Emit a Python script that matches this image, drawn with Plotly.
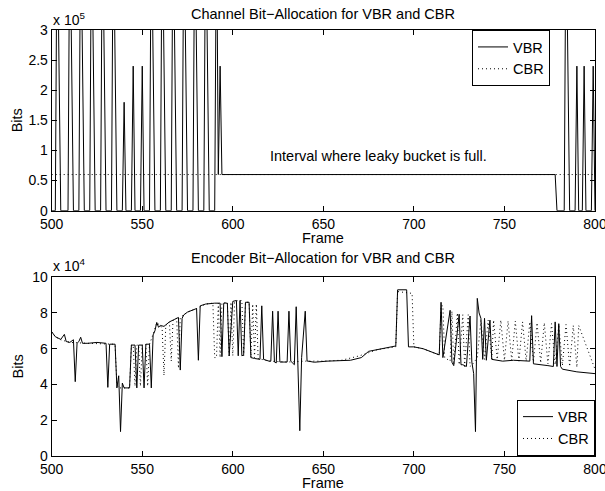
import plotly.graph_objects as go

# ---------------- data ----------------
# Top panel: channel bit-allocation (bits), polyline vertices
top_vbr_frames = [500, 502, 503, 505, 509, 510, 512, 515, 516, 518, 521, 522, 524,
                  527, 528, 530, 533, 534, 536, 539, 540, 541, 544, 545, 546, 549,
                  550, 551, 554, 555, 557, 560, 561, 563, 566, 567, 569, 572, 573,
                  575, 578, 579, 581, 584, 585, 587, 590, 591, 592, 593, 594, 778,
                  779, 783, 784, 786, 789, 790, 791, 793, 794, 795, 798, 799, 800]
top_vbr_bits = [0, 0, 500000, 0, 0, 500000, 0, 0, 500000, 0, 0, 500000, 0,
                0, 500000, 0, 0, 500000, 0, 0, 180000, 0, 0, 240000, 0, 0,
                240000, 0, 0, 500000, 0, 0, 500000, 0, 0, 500000, 0, 0, 500000,
                0, 0, 500000, 0, 0, 500000, 0, 0, 500000, 60000, 240000, 60000, 60000,
                0, 0, 500000, 0, 0, 240000, 0, 0, 240000, 0, 0, 240000, 0]
top_cbr_frames = [500, 800]
top_cbr_bits = [60000, 60000]

# Bottom panel: encoder bit-allocation (bits)
bot_vbr_frames = [500, 502, 505, 507, 508, 510, 512, 513, 514, 515, 516, 517, 520,
                  525, 530, 531, 532, 535, 536, 537, 538, 539, 540, 543, 544, 546,
                  547, 548, 550, 551, 552, 554, 555, 556, 557, 558, 559, 560, 562,
                  565, 568, 570, 571, 572, 573, 575, 580, 581, 582, 585, 590, 593,
                  594, 595, 596, 597, 598, 600, 602, 603, 604, 605, 606, 607, 609,
                  610, 612, 615, 616, 617, 620, 621, 622, 623, 624, 625, 626, 630,
                  631, 632, 634, 635, 637, 638, 640, 641, 645, 652, 665, 671, 675,
                  680, 685, 690, 691, 696, 697, 700, 705, 710, 714, 715, 716, 720,
                  721, 722, 725, 726, 727, 729, 731, 732, 733, 734, 735, 736, 737,
                  738, 739, 740, 742, 743, 749, 755, 760, 764, 765, 766, 774, 777,
                  778, 779, 780, 781, 782, 790, 800]
bot_vbr_bits = [69500, 66700, 65200, 68000, 64000, 63500, 65000, 41500, 63000, 64000,
                66400, 63000, 63000, 63500, 63000, 38300, 62500, 62500, 38000, 44800,
                13500, 40700, 38000, 38000, 62000, 62000, 38000, 62000, 62000, 38000,
                62500, 62500, 38000, 67700, 70000, 74700, 72000, 73000, 72500, 75000,
                76500, 77500, 48000, 77000, 79000, 80500, 82500, 53500, 84000, 85000,
                85500, 85500, 55500, 85500, 85500, 85500, 56000, 86500, 87000, 56000,
                87000, 56000, 56500, 86000, 86000, 55000, 54500, 54000, 84000, 54000,
                53000, 53000, 81000, 52500, 52000, 81000, 52500, 52500, 81000, 53000,
                51000, 83500, 14000, 55000, 81000, 53100, 52400, 53000, 53500, 55000,
                58500, 59500, 60500, 61500, 93000, 93000, 61000, 61000, 60000, 58000,
                56500, 86000, 55000, 81500, 52400, 50500, 79300, 51000, 51000, 50000,
                78300, 52500, 46000, 13500, 88200, 80000, 77000, 54000, 77000, 53500,
                76000, 54000, 53000, 53500, 53000, 53000, 78500, 51500, 50500, 50000,
                75000, 50000, 74000, 50000, 48500, 47000, 46000]
bot_cbr_frames = [500, 502, 505, 510, 520, 534, 535, 536, 537, 543, 544, 545, 546,
                  547, 548, 549, 550, 552, 553, 554, 556, 558, 560, 561, 562, 563,
                  565, 566, 567, 569, 570, 571, 575, 580, 585, 589, 590, 591, 592,
                  593, 594, 597, 598, 599, 600, 601, 603, 605, 606, 607, 609, 610,
                  611, 612, 613, 614, 620, 630, 640, 650, 660, 670, 680, 690, 691,
                  699, 700, 705, 710, 714, 715, 716, 717, 720, 721, 722, 724, 725,
                  727, 728, 730, 731, 733, 735, 737, 739, 741, 743, 744, 746, 748,
                  750, 752, 754, 756, 758, 760, 762, 764, 766, 768, 770, 772, 774,
                  776, 778, 780, 782, 784, 786, 788, 790, 791, 800]
bot_cbr_bits = [69500, 66700, 65000, 63500, 63000, 62500, 62000, 40000, 38000, 38000,
                62000, 62000, 39000, 62000, 62000, 39000, 62000, 62500, 39000, 62500,
                68000, 74500, 73000, 71000, 45000, 73000, 75000, 53000, 76000, 77000,
                49000, 77500, 80500, 82500, 85000, 85500, 55000, 55000, 85500, 55000,
                85500, 86000, 56000, 86000, 56000, 86500, 87000, 87000, 56000, 86000,
                86000, 55000, 85000, 55000, 85000, 54500, 53000, 52500, 53000, 53000,
                53500, 56000, 59500, 61000, 92000, 91000, 61000, 60000, 58000, 56500,
                84000, 84000, 55000, 53000, 81000, 51000, 80000, 51000, 79000, 50000,
                79000, 50000, 52000, 55000, 76000, 54000, 76000, 54000, 76000, 54000,
                76000, 53500, 75500, 53500, 75500, 53000, 75000, 53000, 75000, 52500,
                74500, 52000, 74500, 51500, 74000, 51000, 73500, 50500, 73500, 50000,
                73000, 49500, 73000, 48500, 46000]

x_ticks = [500, 550, 600, 650, 700, 750, 800]
top_y_ticks = [0, 50000, 100000, 150000, 200000, 250000, 300000]
top_y_labels = ["0", "0.5", "1", "1.5", "2", "2.5", "3"]
bot_y_ticks = [0, 20000, 40000, 60000, 80000, 100000]
bot_y_labels = ["0", "2", "4", "6", "8", "10"]

FONT = "Liberation Sans, Arial, Helvetica, sans-serif"
W, H = 605, 491
FS = 14.5

def px_x(p):
    return p / W

def px_y(p):
    return 1 - p / H

# axes pixel boxes
AX_L, AX_R = 51.7, 595.0
TOP_T, TOP_B = 30.0, 210.7
BOT_T, BOT_B = 277.3, 455.7

fig = go.Figure()
line_solid = dict(color="black", width=1)
line_dot = dict(color="black", width=1, dash="1px,3px")

fig.add_trace(go.Scatter(x=top_cbr_frames, y=top_cbr_bits, mode="lines", name="CBR",
                         line=line_dot, xaxis="x", yaxis="y", legend="legend",
                         legendrank=2))
fig.add_trace(go.Scatter(x=top_vbr_frames, y=top_vbr_bits, mode="lines", name="VBR",
                         line=line_solid, xaxis="x", yaxis="y", legend="legend",
                         legendrank=1))
fig.add_trace(go.Scatter(x=bot_cbr_frames, y=bot_cbr_bits, mode="lines", name="CBR",
                         line=line_dot, xaxis="x2", yaxis="y2", legend="legend2",
                         legendrank=2))
fig.add_trace(go.Scatter(x=bot_vbr_frames, y=bot_vbr_bits, mode="lines", name="VBR",
                         line=line_solid, xaxis="x2", yaxis="y2", legend="legend2",
                         legendrank=1))

axis_common = dict(showline=True, linecolor="black", linewidth=1, mirror="allticks",
                   ticks="inside", ticklen=5, tickcolor="black", tickwidth=1,
                   showgrid=False, zeroline=False, automargin=False,
                   tickfont=dict(family=FONT, size=14, color="black"))

fig.update_layout(
    width=W, height=H,
    margin=dict(l=0, r=0, t=0, b=0, pad=0, autoexpand=False),
    paper_bgcolor="white", plot_bgcolor="white",
    font=dict(family=FONT, size=FS, color="black"),
    xaxis=dict(domain=[px_x(AX_L), px_x(AX_R)], range=[500, 800], tickvals=x_ticks,
               anchor="y", ticklabeloverflow="allow", **axis_common),
    yaxis=dict(domain=[px_y(TOP_B), px_y(TOP_T)], range=[0, 300000],
               tickvals=top_y_ticks, ticktext=top_y_labels, anchor="x", **axis_common),
    xaxis2=dict(domain=[px_x(AX_L), px_x(AX_R)], range=[500, 800], tickvals=x_ticks,
                anchor="y2", ticklabeloverflow="allow", **axis_common),
    yaxis2=dict(domain=[px_y(BOT_B), px_y(BOT_T)], range=[0, 100000],
                tickvals=bot_y_ticks, ticktext=bot_y_labels, anchor="x2", **axis_common),
    legend=dict(x=px_x(550), y=px_y(TOP_T), xanchor="right", yanchor="top",
                bgcolor="white", bordercolor="black", borderwidth=1,
                font=dict(family=FONT, size=FS), itemwidth=30, tracegroupgap=0),
    legend2=dict(x=px_x(AX_R), y=px_y(BOT_B), xanchor="right", yanchor="bottom",
                 bgcolor="white", bordercolor="black", borderwidth=1,
                 font=dict(family=FONT, size=FS), itemwidth=30, tracegroupgap=0),
    showlegend=True,
)

ann = []
def text(x, y, s, size=FS, xanchor="center", yanchor="middle", **kw):
    d = dict(x=x, y=y, xref="paper", yref="paper", text=s, showarrow=False,
             xanchor=xanchor, yanchor=yanchor,
             font=dict(family=FONT, size=size, color="black"))
    d.update(kw)
    ann.append(d)

mid_x = (AX_L + AX_R) / 2
text(px_x(mid_x), px_y(14), "Channel Bit\u2212Allocation for VBR and CBR")
text(px_x(mid_x), px_y(258), "Encoder Bit\u2212Allocation for VBR and CBR")
text(px_x(mid_x), px_y(238), "Frame")
text(px_x(mid_x), px_y(483), "Frame")
text(px_x(17), px_y((TOP_T + TOP_B) / 2), "Bits", textangle=-90)
text(px_x(17), px_y((BOT_T + BOT_B) / 2), "Bits", textangle=-90)
text(px_x(51), px_y(19), "x 10<sup>5</sup>", size=14, xanchor="left")
text(px_x(51), px_y(265), "x 10<sup>4</sup>", size=14, xanchor="left")
ann.append(dict(x=619.5, y=90000, xref="x", yref="y",
                text="Interval where leaky bucket is full.", showarrow=False,
                xanchor="left", yanchor="middle",
                font=dict(family=FONT, size=FS, color="black")))
fig.update_layout(annotations=ann)

fig.write_html("out.html", config={"displayModeBar": False},
               post_script="document.body.style.margin='0';document.body.style.overflow='hidden';")
